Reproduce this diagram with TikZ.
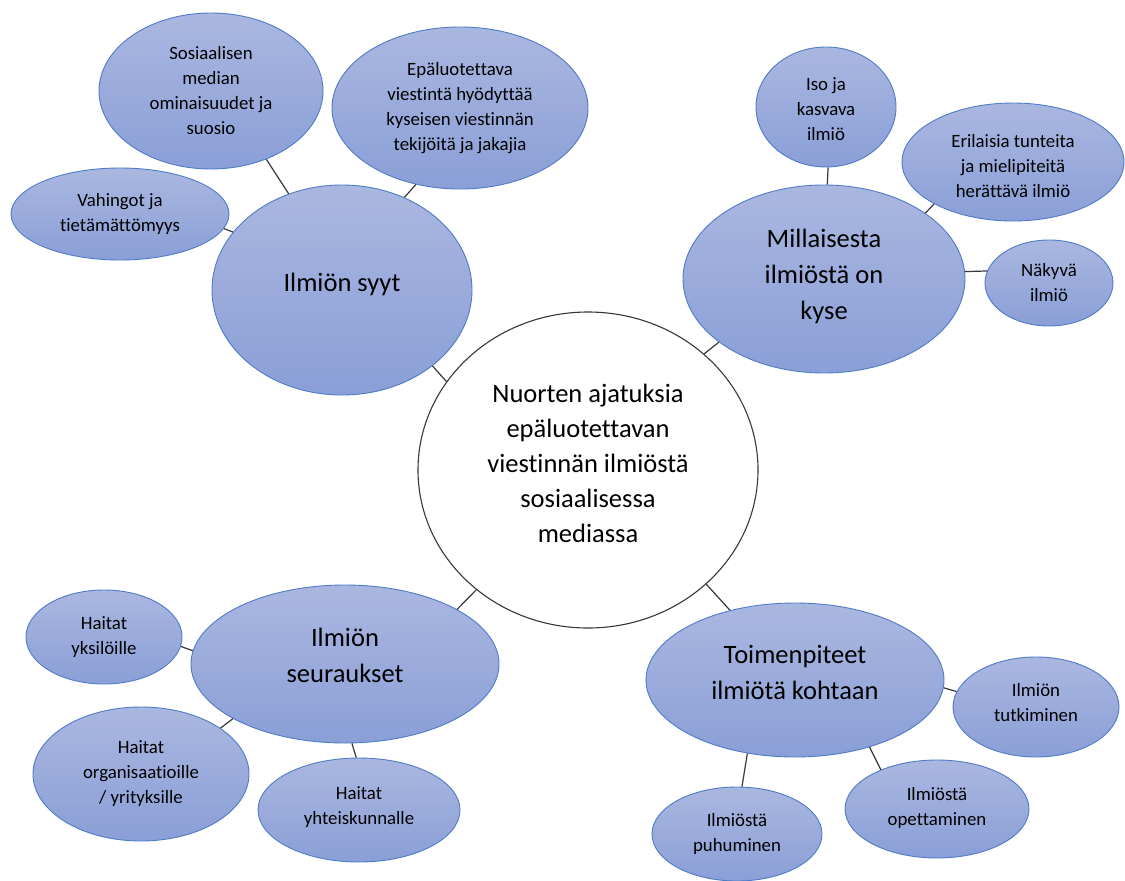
\documentclass[tikz,border=0pt]{standalone}
\usepackage{fontspec}
\setmainfont{Carlito}[Ligatures={NoCommon}]
\usetikzlibrary{shapes.geometric}
\definecolor{bubbletop}{HTML}{AAB7E0}
\definecolor{bubblebottom}{HTML}{8A9FD7}
\definecolor{bubbleedge}{HTML}{4F7BC8}
\definecolor{linkgray}{HTML}{383838}
\begin{document}
\begin{tikzpicture}[x=1pt,y=-1pt,
  bubble/.style={ellipse, draw=bubbleedge, line width=0.9pt,
    top color=bubbletop, bottom color=bubblebottom, inner sep=0pt},
  hubstyle/.style={ellipse, draw=linkgray, line width=1.1pt, fill=white,
    inner sep=0pt},
  words/.style={align=center, text=black, inner sep=0pt},
  small/.style={words, font=\fontsize{18.8}{25}\selectfont},
  big/.style={words, font=\fontsize{26.5}{36}\selectfont},
  radii/.style 2 args={minimum width=2*#1, minimum height=2*#2},
  link/.style={draw=linkgray, line width=1.2pt}]

\useasboundingbox (0,0) rectangle (1125,881);
\fill[white] (0,0) rectangle (1125,881);

% central topic
\node[hubstyle, radii={170}{158},
  label={[name=hub-text, big, font=\fontsize{26.5}{35}\selectfont, yshift=7pt]center:{Nuorten ajatuksia\\epäluotettavan\\viestinnän ilmiöstä\\sosiaalisessa\\mediassa}}]
  (hub) at (588,470) {};

% causes
\node[bubble, radii={130}{105},
  label={[name=syyt-text, big, yshift=6pt]center:{Ilmiön syyt}}]
  (syyt) at (342,290) {};
\node[bubble, radii={112}{78},
  label={[name=sos-text, small]center:{Sosiaalisen\\median\\ominaisuudet ja\\suosio}}]
  (sos) at (211,91) {};
\node[bubble, radii={128}{81},
  label={[name=epa-text, small]center:{Epäluotettava\\viestintä hyödyttää\\kyseisen viestinnän\\tekijöitä ja jakajia}}]
  (epa) at (460,108) {};
\node[bubble, radii={109}{46},
  label={[name=vah-text, small]center:{Vahingot ja\\tietämättömyys}}]
  (vah) at (120,214) {};

% nature of the phenomenon
\node[bubble, radii={141}{94},
  label={[name=mill-text, big, yshift=3pt]center:{Millaisesta\\ilmiöstä on\\kyse}}]
  (mill) at (824,279) {};
\node[bubble, radii={70}{60},
  label={[name=iso-text, small, yshift=-2pt]center:{Iso ja\\kasvava\\ilmiö}}]
  (iso) at (826,107) {};
\node[bubble, radii={111}{59},
  label={[name=eri-text, small, yshift=-4pt]center:{Erilaisia tunteita\\ja mielipiteitä\\herättävä ilmiö}}]
  (eri) at (1013,162) {};
\node[bubble, radii={64}{43},
  label={[name=nak-text, small]center:{Näkyvä\\ilmiö}}]
  (nak) at (1049,283) {};

% consequences
\node[bubble, radii={154}{79},
  label={[name=seur-text, big, yshift=9pt]center:{Ilmiön\\seuraukset}}]
  (seur) at (345,664) {};
\node[bubble, radii={78}{47},
  label={[name=yks-text, small]center:{Haitat\\yksilöille}}]
  (yks) at (104,637) {};
\node[bubble, radii={108}{67},
  label={[name=org-text, small]center:{Haitat\\organisaatioille\\/ yrityksille}}]
  (org) at (141,774) {};
\node[bubble, radii={101}{52},
  label={[name=yht-text, small, yshift=3pt]center:{Haitat\\yhteiskunnalle}}]
  (yht) at (359,810) {};

% measures
\node[bubble, radii={149}{77},
  label={[name=toim-text, big, yshift=8pt]center:{Toimenpiteet\\ilmiötä kohtaan}}]
  (toim) at (795,680) {};
\node[bubble, radii={83}{50},
  label={[name=tutk-text, small, yshift=4pt]center:{Ilmiön\\tutkiminen}}]
  (tutk) at (1036,707) {};
\node[bubble, radii={92}{49},
  label={[name=ope-text, small, yshift=1pt]center:{Ilmiöstä\\opettaminen}}]
  (ope) at (937,809) {};
\node[bubble, radii={85}{47},
  label={[name=puh-text, small]center:{Ilmiöstä\\puhuminen}}]
  (puh) at (737,834) {};

% connectors
\draw[link] (sos.309) -- (syyt.119);
\draw[link] (epa.240) -- (syyt.56);
\draw[link] (vah.352) -- (syyt.152);
\draw[link] (syyt.320) -- (hub.148);

\draw[link] (iso.272) -- (mill.88);
\draw[link] (eri.208) -- (mill.33);
\draw[link] (nak.169) -- (mill.3);
\draw[link] (hub.45) -- (mill.211);

\draw[link] (yks.353) -- (seur.175);
\draw[link] (org.30) -- (seur.206);
\draw[link] (seur.275) -- (yht.93);
\draw[link] (seur.26) -- (hub.227);

\draw[link] (hub.316) -- (toim.133);
\draw[link] (toim.357) -- (tutk.169);
\draw[link] (toim.318) -- (ope.145);
\draw[link] (toim.237) -- (puh.84);
\end{tikzpicture}
\end{document}
